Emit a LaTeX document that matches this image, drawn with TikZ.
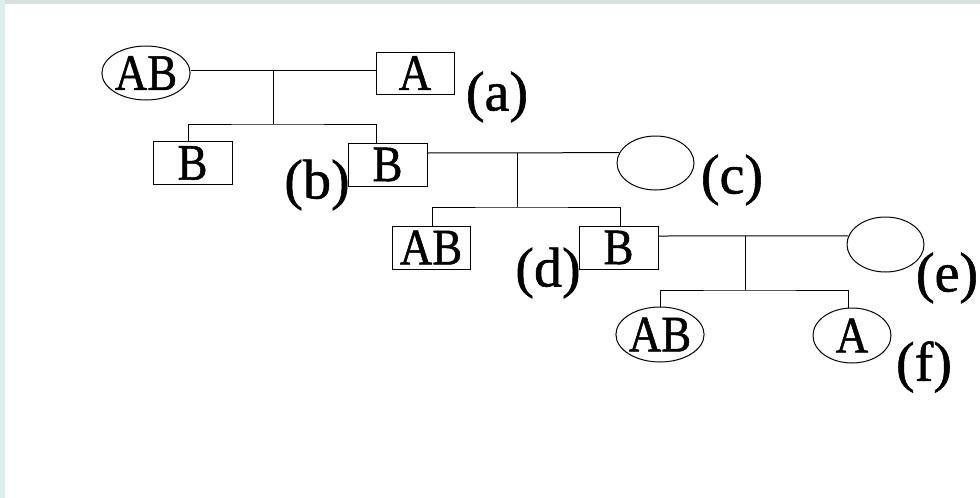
\documentclass[tikz,border=0pt]{standalone}
\usepackage{fontspec}
\setmainfont{Liberation Serif}[FakeBold=1]
\newfontfamily\boxfont[FakeStretch=0.88,FakeBold=1]{Liberation Serif}
\usetikzlibrary{shapes.geometric}
\definecolor{topstrip}{HTML}{D9E0E0}
\definecolor{leftstrip}{HTML}{DCEFEC}
\tikzset{
  person/.style={draw=black, line width=1pt, inner sep=0pt,
    font=\boxfont\fontsize{51}{51}\selectfont},
  male/.style={person, rectangle, minimum width=79pt, minimum height=43pt},
  female/.style={person, ellipse, minimum width=77pt, minimum height=54pt},
  tag/.style={inner sep=0pt, font=\fontsize{56}{56}\selectfont},
  link/.style={draw=black, line width=1pt}
}
\begin{document}
\begin{tikzpicture}[x=1pt, y=-1pt]
\useasboundingbox (0,0) rectangle (980,498);
\fill[white] (0,0) rectangle (980,498);
\fill[topstrip] (0,0) rectangle (980,4);
\fill[leftstrip] (0,0) rectangle (5,498);

% generation 1
\node[female] (g1f) at (146,73) {AB};
\node[male, minimum width=78pt, minimum height=42pt] (g1m) at (415,73) {A};
\node[tag] (la) at (497,97) {(a)};
\coordinate (m1) at (273,70);
\coordinate (s1) at (273,124);
\draw[link] ([yshift=3pt]g1f.east) -- ([yshift=3pt]g1m.west);
\draw[link] (m1) -- (s1);

% generation 2
\node[male] (c1) at (192.5,163) {B};
\node[male] (bB) at (387.5,164.5) {B};
\node[tag] (lb) at (317,185) {(b)};
\draw[link] ([xshift=-4.5pt]c1.north) |- (s1) -| ([xshift=-11.5pt]bB.north);

\node[female] (ec) at (655.5,163) {};
\node[tag] (lc) at (732,180) {(c)};
\coordinate (m2) at (517,153);
\coordinate (s2) at (517,207);
\draw[link] ([yshift=11.5pt]bB.east) -- (ec.164);
\draw[link] (m2) -- (s2);

% generation 3
\node[male, minimum width=78pt] (c2) at (431,247.5) {AB};
\node[male] (dB) at (618.5,247.5) {B};
\node[tag] (ld) at (548,273) {(d)};
\draw[link] ([xshift=1pt]c2.north) |- (s2) -| ([xshift=1.5pt]dB.north);

\node[female, minimum height=55pt] (ee) at (885.5,244.5) {};
\node[tag] (le) at (947,278) {(e)};
\coordinate (m3) at (745,236);
\coordinate (s3) at (745,290);
\draw[link] ([yshift=11.5pt]dB.east) -- (ee.167);
\draw[link] (m3) -- (s3);

% generation 4
\node[female, minimum width=76pt, minimum height=55pt] (fAB) at (660,334.5) {AB};
\node[female, minimum width=78pt, minimum height=55pt] (fA) at (852,335.5) {A};
\node[tag] (lf) at (924,367) {(f)};
\draw[link] (fAB.north) |- (s3) -| ([xshift=-4pt]fA.north);
\end{tikzpicture}
\end{document}
